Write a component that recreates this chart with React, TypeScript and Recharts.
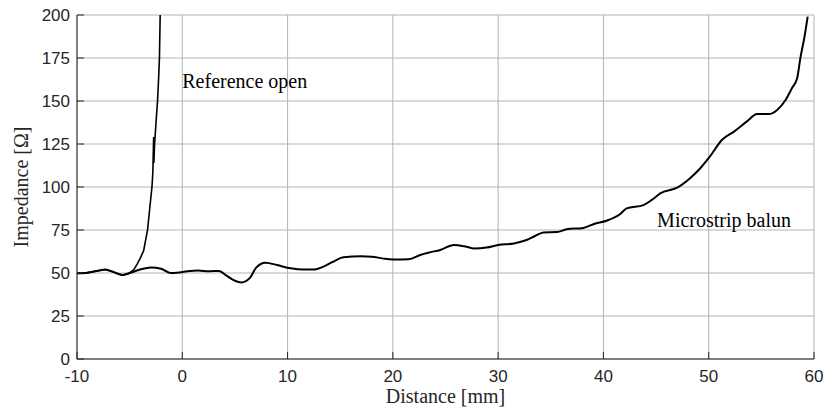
import React from 'react';
import { LineChart, Line, XAxis, YAxis, CartesianGrid, ReferenceDot } from 'recharts';

const xTicks = [-10, 0, 10, 20, 30, 40, 50, 60];
const yTicks = [0, 25, 50, 75, 100, 125, 150, 175, 200];

const microstripX = [-10, -9, -8, -7.3, -6.5, -5.7, -5, -4, -3, -2, -1.1, -0.5, 0.5, 1.5, 2.5, 3.5, 4.2, 5, 5.6, 6.4, 7, 7.9, 9, 10.3, 11.5, 12.5, 13.4, 14.3, 15.3, 17, 18, 19, 20, 21.5, 22.6, 23.5, 24.5, 25.8, 27, 27.7, 28.9, 30, 31.5, 32.7, 33.5, 34.3, 35.6, 36.5, 38.1, 39.1, 40.3, 41.6, 42.2, 43.8, 44.6, 45.4, 47, 48.2, 49.2, 50.1, 51.25, 52.4, 53.6, 54.6, 55.7, 56.5, 57.3, 57.9, 58.4, 58.7, 59.1, 59.4];
const microstripY = [49.8, 50.2, 51.3, 52, 50.5, 48.8, 50, 52, 53.2, 52.5, 50, 50.2, 51, 51.4, 51, 51.2, 48.5, 45.5, 44.5, 47, 53, 56, 54.6, 52.7, 52, 52, 53.7, 56.5, 59.1, 59.7, 59.5, 58.5, 57.8, 58, 60.5, 62, 63.4, 66.3, 65.2, 64.3, 64.8, 66.3, 67.2, 69.2, 71.5, 73.6, 73.8, 75.4, 76.2, 78.5, 80.4, 84.3, 87.6, 89.5, 92.5, 96.3, 99.6, 105, 110.9, 117.6, 127.3, 132.2, 138, 142.4, 142.4, 144.8, 150.6, 157.4, 163.2, 174.8, 187.4, 199];

const refOpenX = [-10, -9, -8, -7.3, -6.5, -5.7, -5.1, -4.6, -4.3, -4.0, -3.67, -3.3, -3.1, -2.88, -2.8, -2.72, -2.7, -2.63, -2.5, -2.35, -2.25, -2.17, -2.1];
const refOpenY = [49.8, 50.2, 51.3, 52, 50.5, 48.8, 49.6, 52, 55, 58.5, 63, 75, 87, 100, 108, 129, 114, 125, 137, 150, 163, 175, 200];

const microstrip = microstripX.map((x, i) => ({ x, y: microstripY[i] }));
const refOpen = refOpenX.map((x, i) => ({ x, y: refOpenY[i] }));

const AX = '#262626';
const tickFont = { fontFamily: 'Liberation Sans, Arial, sans-serif', fontSize: 17, fill: AX };
const serif = 'Liberation Serif, Times New Roman, serif';

const textLabel = (value: string) => (props: any) => {
  const vb = props.viewBox || {};
  return (
    <text x={vb.x} y={vb.y} fontFamily={serif} fontSize={20} fill="#000">
      {value}
    </text>
  );
};

export default function App() {
  return (
    <div style={{ position: 'absolute', left: 0, top: 0, width: 827, height: 409, background: '#fff' }}>
      <LineChart width={827} height={409} margin={{ top: 15, right: 13, bottom: 0, left: 0 }}>
        <CartesianGrid stroke="#b4b4b4" strokeWidth={1} horizontalValues={yTicks} verticalValues={xTicks} />
        <XAxis
          type="number"
          dataKey="x"
          domain={[-10, 60]}
          ticks={xTicks}
          allowDataOverflow
          height={50}
          tickSize={-7}
          tickMargin={18}
          tick={tickFont}
          stroke={AX}
          axisLine={{ stroke: AX }}
          tickLine={{ stroke: AX }}
          label={(props: any) => {
            const vb = props.viewBox || {};
            return (
              <text x={vb.x + vb.width / 2} y={403} textAnchor="middle" fontFamily={serif} fontSize={20} fill={AX}>
                Distance [mm]
              </text>
            );
          }}
        />
        <XAxis
          xAxisId="top"
          orientation="top"
          type="number"
          dataKey="x"
          domain={[-10, 60]}
          ticks={xTicks}
          height={0}
          tickSize={-7}
          tick={false}
          axisLine={{ stroke: AX }}
          tickLine={{ stroke: AX }}
        />
        <YAxis
          type="number"
          domain={[0, 200]}
          ticks={yTicks}
          allowDataOverflow
          width={77}
          tickSize={-7}
          tickMargin={14}
          tick={tickFont}
          axisLine={{ stroke: AX }}
          tickLine={{ stroke: AX }}
          label={(props: any) => {
            const vb = props.viewBox || {};
            const cy = vb.y + vb.height / 2;
            return (
              <text x={28} y={cy} transform={`rotate(-90 28 ${cy})`} textAnchor="middle" fontFamily={serif} fontSize={20} fill={AX}>
                Impedance [Ω]
              </text>
            );
          }}
        />
        <YAxis
          yAxisId="right"
          orientation="right"
          type="number"
          domain={[0, 200]}
          ticks={yTicks}
          width={0}
          tickSize={-7}
          tick={false}
          axisLine={{ stroke: AX }}
          tickLine={{ stroke: AX }}
        />
        <Line
          data={refOpen}
          dataKey="y"
          type="linear"
          stroke="#000"
          strokeWidth={1.6}
          dot={false}
          isAnimationActive={false}
        />
        <Line
          data={microstrip}
          dataKey="y"
          type="monotone"
          stroke="#000"
          strokeWidth={2}
          dot={false}
          isAnimationActive={false}
        />
        <ReferenceDot x={0} y={157.6} r={0} fill="none" stroke="none" label={textLabel('Reference open')} />
        <ReferenceDot x={45.1} y={76.9} r={0} fill="none" stroke="none" label={textLabel('Microstrip balun')} />
      </LineChart>
    </div>
  );
}
